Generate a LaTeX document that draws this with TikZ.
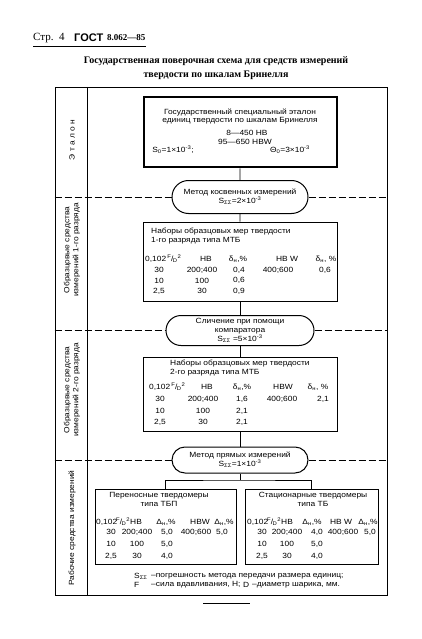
\documentclass[tikz,border=0pt]{standalone}
\usepackage{fontspec}
\setmainfont{Liberation Serif}
\setsansfont{Liberation Sans}
\newfontfamily\boxfont{Liberation Sans}[FakeStretch=1.12]
\usetikzlibrary{shapes.misc}

\newcommand\FD{\textsuperscript{F}\kern-.5pt/\kern-.5pt\textsubscript{D}\textsuperscript{2}}
\newcommand\Sss{S\textsubscript{ΣΣ}}

\tikzset{
  box/.style={draw, line width=1pt, inner sep=0pt},
  oval/.style={draw, rounded rectangle, line width=1pt, align=center, inner sep=0pt},
  sep/.style={dash pattern=on 7pt off 3pt, line width=0.7pt},
  cell/.style={inner sep=0pt},
  lbl/.style={rotate=90, align=center, inner sep=0pt},
}

\begin{document}
\begin{tikzpicture}[x=1pt,y=-1pt,font=\boxfont\fontsize{7.5}{9}\selectfont]
\useasboundingbox (0,0) rectangle (422,639);

\node[anchor=west,cell,font=\rmfamily\fontsize{11}{12}\selectfont] (page) at (33,38) {Стр.\enspace 4};
\node[anchor=west,cell,font=\sffamily\bfseries\fontsize{11}{12}\selectfont] (gost) at (74,38) {ГОСТ};
\node[anchor=west,cell,font=\rmfamily\bfseries\fontsize{9}{10}\selectfont] (num) at (107,38) {8.062—85};
\coordinate (rule) at (0,46.5);
\draw[line width=1.2pt] (page.west |- rule) -- (num.east |- rule);

\node[cell,align=center,font=\rmfamily\bfseries\fontsize{10}{14}\selectfont] (title) at (216,68)
  {Государственная поверочная схема для средств измерений\\твердости по шкалам Бринелля};

\node[draw, line width=0.8pt, minimum width=332pt, minimum height=508pt, inner sep=0pt] (frame) at (221,341) {};
\coordinate (col) at (87,87);
\draw[line width=0.8pt] (col) -- (col |- frame.south);

\node[lbl] (l0) at (72,140) {Э\ т\ а\ л\ о\ н};
\node[lbl] (l1) at (72,250) {Образцовые средства\\измерений 1-го разряда};
\node[lbl] (l2) at (72,390) {Образцовые средства\\измерений 2-го разряда};
\node[lbl] (l3) at (72,528) {Рабочие средства измерений};

% boxes
\node[box, line width=2pt, minimum width=193pt, minimum height=70pt] (etalon) at (240,132.5) {};
\node[oval, minimum width=136pt, minimum height=33pt] (kosv) at (240,197) {Метод косвенных измерений\\\Sss=2×10\textsuperscript{-3}};
\node[box, minimum width=194pt, minimum height=79pt] (mtb1) at (240,261.5) {};
\node[oval, minimum width=148pt, minimum height=30pt] (komp) at (240,330.5) {Сличение при помощи\\компаратора\\\Sss\ =5×10\textsuperscript{-3}};
\node[box, minimum width=194pt, minimum height=74pt] (mtb2) at (240,394) {};
\node[oval, minimum width=136pt, minimum height=26pt] (pryam) at (240,460) {Метод прямых измерений\\\Sss=1×10\textsuperscript{-3}};
\node[box, minimum width=141pt, minimum height=75pt] (tbp) at (165.5,526.5) {};
\node[box, minimum width=133pt, minimum height=75pt] (tb) at (311.5,526.5) {};

\draw[line width=0.8pt] (etalon) -- (kosv);
\draw[line width=0.8pt] (kosv) -- (mtb1);
\draw[line width=0.8pt] (mtb1) -- (komp);
\draw[line width=0.8pt] (komp) -- (mtb2);
\draw[line width=0.8pt] (mtb2) -- (pryam);
\coordinate (fork) at (240,480);
\draw[line width=0.8pt] (pryam) -- (fork);
\draw[line width=0.8pt] (tbp.north) |- (fork) -| (tb.north);

\draw[sep] (frame.west |- kosv) -- (kosv.west);
\draw[sep] (kosv.east) -- (frame.east |- kosv);
\draw[sep] (frame.west |- komp) -- (komp.west);
\draw[sep] (komp.east) -- (frame.east |- komp);
\draw[sep] (frame.west |- pryam) -- (pryam.west);
\draw[sep] (pryam.east) -- (frame.east |- pryam);

% etalon
\node[cell] (e1) at (240,112) {Государственный специальный эталон};
\node[cell] (e2) at (240,121) {единиц твердости по шкалам Бринелля};
\node[cell] (e3) at (247,133) {8—450 HB};
\node[cell] (e4) at (245,141.5) {95—650 HBW};
\node[cell] (e5) at (173,150) {S\textsubscript{0}=1×10\textsuperscript{-3};};
\node[cell] (e6) at (290,150) {Θ\textsubscript{0}=3×10\textsuperscript{-3}};

% 1-go razryada
\node[cell,anchor=west] (a1) at (151,232) {Наборы образцовых мер твердости};
\node[cell,anchor=west] (a2) at (151,241) {1-го разряда типа МТБ};
\node[cell,anchor=west] (ah1) at (145,259) {0,102\,\FD};
\node[cell] (ah2) at (206,259) {HB};
\node[cell] (ah3) at (238,259) {δ\textsubscript{н},\%};
\node[cell] (ah4) at (287,259) {HB W};
\node[cell] (ah5) at (326,259) {δ\textsubscript{н}, \%};
\foreach \y/\a/\b/\c [count=\i] in {270/30/{200;400}/{0,4},280.5/10/100/{0,6},291/{2,5}/30/{0,9}}{
  \node[cell] (ar\i a) at (159,\y) {\a};
  \node[cell] (ar\i b) at (202,\y) {\b};
  \node[cell] (ar\i c) at (239,\y) {\c};
}
\node[cell] (ar1d) at (278,270) {400;600};
\node[cell] (ar1e) at (325,270) {0,6};

% 2-go razryada
\node[cell,anchor=west] (b1) at (170,364) {Наборы образцовых мер твердости};
\node[cell,anchor=west] (b2) at (170,373) {2-го разряда типа МТБ};
\node[cell,anchor=west] (bh1) at (149,387) {0,102\,\FD};
\node[cell] (bh2) at (207,387) {HB};
\node[cell] (bh3) at (242,387) {δ\textsubscript{н},\%};
\node[cell] (bh4) at (283,387) {HBW};
\node[cell] (bh5) at (318,387) {δ\textsubscript{н}, \%};
\foreach \y/\a/\b/\c [count=\i] in {399/30/{200;400}/{1,6},411/10/100/{2,1},422/{2,5}/30/{2,1}}{
  \node[cell] (br\i a) at (160,\y) {\a};
  \node[cell] (br\i b) at (203,\y) {\b};
  \node[cell] (br\i c) at (242,\y) {\c};
}
\node[cell] (br1d) at (282,399) {400;600};
\node[cell] (br1e) at (323,399) {2,1};

% TBP
\node[cell,align=center] (c1) at (159,499) {Переносные твердомеры\\типа ТБП};
\node[cell,anchor=west] (ch1) at (96,522) {0,102\kern-1pt\FD};
\node[cell,anchor=west] (ch2) at (130,522) {HB};
\node[cell] (ch3) at (166,522) {Δ\textsubscript{н},\%};
\node[cell] (ch4) at (200,522) {HBW};
\node[cell] (ch5) at (224,522) {Δ\textsubscript{н},\%};
\foreach \y/\a/\b/\c [count=\i] in {532/30/{200;400}/{5,0},544/10/100/{5,0},556/{2,5}/30/{4,0}}{
  \node[cell] (cr\i a) at (111,\y) {\a};
  \node[cell] (cr\i b) at (137,\y) {\b};
  \node[cell] (cr\i c) at (167,\y) {\c};
}
\node[cell] (cr1d) at (196,532) {400;600};
\node[cell] (cr1e) at (222,532) {5,0};

% TB
\node[cell,align=center] (d1) at (313,499) {Стационарные твердомеры\\типа ТБ};
\node[cell,anchor=west] (dh1) at (247,522) {0,102\kern-1pt\FD};
\node[cell,anchor=west] (dh2) at (281,522) {HB};
\node[cell] (dh3) at (312,522) {Δ\textsubscript{н},\%};
\node[cell] (dh4) at (341,522) {HB W};
\node[cell] (dh5) at (368,522) {Δ\textsubscript{н},\%};
\foreach \y/\a/\b/\c [count=\i] in {532/30/{200;400}/{4,0},544/10/100/{5,0},556/{2,5}/30/{4,0}}{
  \node[cell] (dr\i a) at (262,\y) {\a};
  \node[cell] (dr\i b) at (287,\y) {\b};
  \node[cell] (dr\i c) at (317,\y) {\c};
}
\node[cell] (dr1d) at (343,532) {400;600};
\node[cell] (dr1e) at (370,532) {5,0};

% notes
\node[cell,anchor=west] (n1) at (134,576) {\Sss};
\node[cell,anchor=west] (n2) at (151,576) {–погрешность метода передачи размера единиц;};
\node[cell,anchor=west] (n3) at (134,585) {F};
\node[cell,anchor=west] (n4) at (151,585) {–сила вдавливания, Н;};
\node[cell,anchor=west] (n5) at (243,585) {D};
\node[cell,anchor=west] (n6) at (252,585) {–диаметр шарика, мм.};

\coordinate (endl) at (203,603);
\coordinate (endr) at (250,603);
\draw[line width=1pt] (endl) -- (endr);

\end{tikzpicture}
\end{document}
